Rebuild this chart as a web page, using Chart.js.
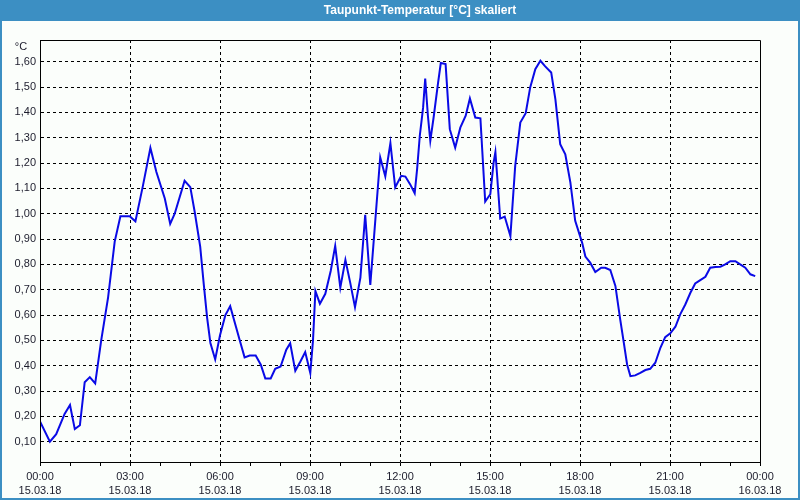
<!DOCTYPE html>
<html><head><meta charset="utf-8">
<script src="https://cdn.jsdelivr.net/npm/chart.js@4/dist/chart.umd.min.js"></script>
<style>html,body{margin:0;padding:0;background:#fbfefb;overflow:hidden}#wrap{width:800px;height:500px;position:relative}</style>
</head><body><div id="wrap"><canvas id="c" width="800" height="500"></canvas></div>
<script>
const chartTitle = 'Taupunkt-Temperatur [°C] skaliert';
const unitLabel = '°C';
const hours = [0.00,0.33,0.54,0.82,1.00,1.16,1.33,1.49,1.66,1.84,2.04,2.27,2.49,2.68,2.99,3.18,3.43,3.68,3.88,4.16,4.34,4.49,4.82,5.01,5.16,5.34,5.46,5.57,5.68,5.84,
  6.00,6.18,6.34,6.66,6.82,6.99,7.19,7.36,7.51,7.69,7.84,8.02,8.21,8.34,8.51,8.68,8.84,9.01,9.10,9.18,9.33,9.51,9.69,9.84,10.01,10.18,10.34,10.50,10.68,10.84,11.01,11.18,11.34,11.51,11.68,11.84,
  12.04,12.18,12.34,12.49,12.57,12.66,12.77,12.84,12.93,13.01,13.12,13.27,13.36,13.52,13.66,13.84,14.01,14.19,14.33,14.51,14.68,14.84,15.01,15.12,15.18,15.23,15.34,15.49,15.68,15.84,16.01,16.19,16.34,16.51,16.68,16.84,17.04,17.18,17.34,17.51,17.68,17.84,
  18.07,18.18,18.34,18.51,18.71,18.84,19.01,19.18,19.34,19.46,19.57,19.68,19.84,20.01,20.18,20.34,20.51,20.68,20.84,21.01,21.18,21.34,21.51,21.68,21.84,22.01,22.18,22.34,22.51,22.68,22.84,23.01,23.18,23.34,23.51,23.68,23.84];
const dewpoint = [0.18,0.10,0.13,0.21,0.245,0.15,0.165,0.335,0.355,0.33,0.50,0.67,0.89,0.99,0.99,0.97,1.11,1.26,1.165,1.06,0.96,1.00,1.13,1.105,1.005,0.87,0.72,0.59,0.49,0.425,
  0.52,0.60,0.635,0.50,0.433,0.44,0.44,0.404,0.35,0.35,0.388,0.397,0.463,0.489,0.38,0.417,0.454,0.371,0.50,0.695,0.645,0.684,0.774,0.873,0.708,0.818,0.728,0.631,0.748,0.996,0.719,0.979,1.223,1.148,1.279,1.104,
  1.15,1.147,1.116,1.081,1.176,1.308,1.419,1.534,1.387,1.288,1.38,1.518,1.595,1.591,1.334,1.261,1.34,1.387,1.455,1.38,1.377,1.048,1.077,1.202,1.244,1.163,0.981,0.989,0.912,1.189,1.36,1.397,1.499,1.571,1.604,1.582,1.558,1.452,1.275,1.235,1.123,0.972,
  0.886,0.831,0.807,0.770,0.787,0.787,0.778,0.715,0.583,0.491,0.405,0.359,0.362,0.372,0.383,0.388,0.412,0.471,0.513,0.528,0.554,0.603,0.642,0.688,0.725,0.738,0.751,0.787,0.790,0.791,0.800,0.813,0.813,0.800,0.787,0.761,0.754];
const yTicks = [0.10,0.20,0.30,0.40,0.50,0.60,0.70,0.80,0.90,1.00,1.10,1.20,1.30,1.40,1.50,1.60];
const xTickHours = [0,3,6,9,12,15,18,21,24];
const xTickTimes = ['00:00','03:00','06:00','09:00','12:00','15:00','18:00','21:00','00:00'];
const xTickDates = ['15.03.18','15.03.18','15.03.18','15.03.18','15.03.18','15.03.18','15.03.18','15.03.18','16.03.18'];

const BLUE = '#3c8fc3', BG = '#fbfefb', TXT = '#1c1c2c', FONT = "'Liberation Sans', Arial, sans-serif";

const framePlugin = {
  id: 'frame',
  beforeDraw(chart) {
    const c = chart.ctx, W = chart.width, H = chart.height;
    c.save();
    c.fillStyle = BLUE; c.fillRect(0, 0, W, H);
    c.fillStyle = BG; c.fillRect(2, 21, W - 4, H - 23);
    c.fillStyle = '#ffffff';
    c.font = 'bold 12px ' + FONT;
    c.textAlign = 'center'; c.textBaseline = 'middle';
    c.fillText(chartTitle, 420, 11);
    c.restore();
  },
  afterDraw(chart) {
    const c = chart.ctx, a = chart.chartArea;
    c.save();
    c.strokeStyle = '#000'; c.lineWidth = 1;
    c.beginPath();
    c.moveTo(Math.round(a.left) + 0.5, Math.round(a.bottom) + 0.5);
    c.lineTo(Math.round(a.left) + 0.5, Math.round(a.top) + 0.5);
    c.lineTo(Math.round(a.right) + 0.5, Math.round(a.top) + 0.5);
    c.lineTo(Math.round(a.right) + 0.5, Math.round(a.bottom) + 0.5);
    c.stroke();
    c.fillStyle = TXT;
    c.font = '11px ' + FONT;
    c.textAlign = 'center'; c.textBaseline = 'middle';
    c.fillText(unitLabel, 21, 47);
    c.restore();
  }
};

new Chart(document.getElementById('c'), {
  type: 'line',
  data: {
    datasets: [{
      data: hours.map((h, i) => ({x: h, y: dewpoint[i]})),
      borderColor: '#0a0ae6',
      borderWidth: 2,
      pointRadius: 0,
      tension: 0,
      fill: false
    }]
  },
  options: {
    responsive: false,
    animation: false,
    devicePixelRatio: 1,
    layout: {padding: {top: 40, right: 40, left: 0, bottom: 0}},
    plugins: {legend: {display: false}, title: {display: false}, tooltip: {enabled: false}},
    scales: {
      x: {
        type: 'linear', min: 0, max: 24,
        afterBuildTicks: s => { const t = []; for (let h = 0; h <= 24; h++) t.push({value: h}); s.ticks = t; },
        afterFit: s => { s.height = 38; },
        ticks: {
          autoSkip: false, maxRotation: 0, minRotation: 0, padding: 3,
          color: TXT, font: {family: FONT, size: 11, lineHeight: 1.36},
          callback: v => { const i = xTickHours.indexOf(v); return i >= 0 ? [xTickTimes[i], xTickDates[i]] : ''; }
        },
        grid: {
          color: ctx => (ctx.tick && ctx.tick.value % 3 === 0 && ctx.tick.value > 0 && ctx.tick.value < 24) ? '#000' : 'rgba(0,0,0,0)',
          tickColor: '#000', tickLength: 4, tickWidth: 1, lineWidth: 1, drawTicks: true
        },
        border: {display: true, color: '#000', width: 1, dash: [3, 3]}
      },
      y: {
        type: 'linear', min: 0.02, max: 1.686,
        afterBuildTicks: s => { s.ticks = yTicks.map(v => ({value: v})); },
        afterFit: s => { s.width = 40; },
        ticks: {
          padding: 4, color: TXT, font: {family: FONT, size: 11},
          callback: v => v.toFixed(2).replace('.', ',')
        },
        grid: {color: '#000', lineWidth: 1, drawTicks: false},
        border: {display: true, color: '#000', width: 1, dash: [3, 3]}
      }
    }
  },
  plugins: [framePlugin]
});
</script></body></html>
